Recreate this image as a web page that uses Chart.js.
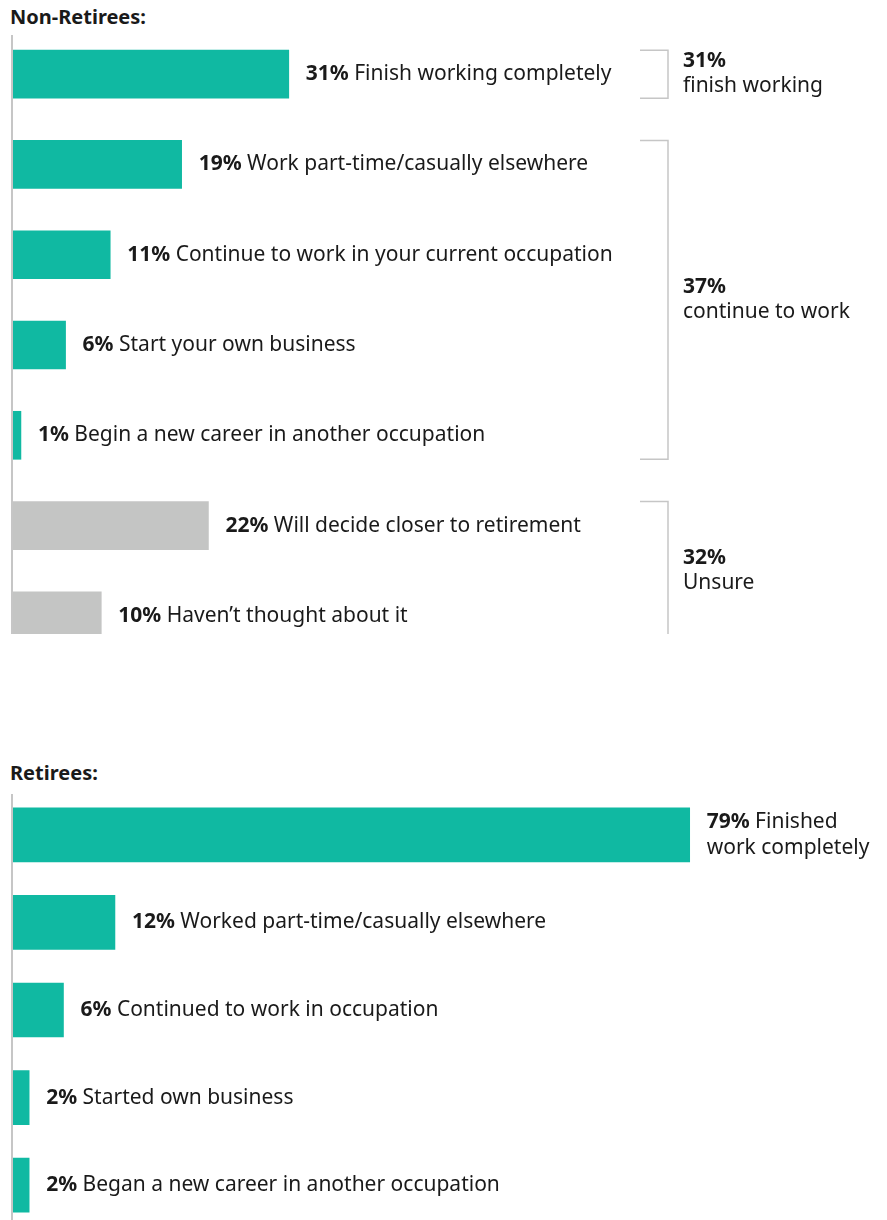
<!DOCTYPE html>
<html>
<head>
<meta charset="utf-8">
<title>Plans for work in retirement</title>
<script src="https://cdn.jsdelivr.net/npm/chart.js@4.4.1/dist/chart.umd.min.js"></script>
<style>
    body { margin: 0; width: 887px; height: 1220px; overflow: hidden; position: relative; background: #fff; }
    .title { position: absolute; left: 10px; font: bold 20px "Noto Sans"; color: #1a1a1a; line-height: 24px; }
    #clip1 { position: absolute; left: 0; top: 0; width: 887px; height: 634px; overflow: hidden; }
    #box1 { position: absolute; left: 0; top: 29px; width: 887px; height: 632px; }
    #box2 { position: absolute; left: 0; top: 791px; width: 887px; height: 438px; }
</style>
</head>
<body>
<div class="title" style="top:5px">Non-Retirees:</div>
<div id="clip1"><div id="box1"><canvas id="nonRetCanvas"></canvas></div></div>
<div class="title" style="top:761px">Retirees:</div>
<div id="box2"><canvas id="retCanvas"></canvas></div>

<script>
// Non-retirees: what they plan to do at retirement
var nonRetLabels = [
    ['Finish working completely'],
    ['Work part-time/casually elsewhere'],
    ['Continue to work in your current occupation'],
    ['Start your own business'],
    ['Begin a new career in another occupation'],
    ['Will decide closer to retirement'],
    ['Haven\u2019t thought about it']
];
var nonRetValues = [31, 19, 11, 6, 1, 22, 10];
var nonRetGroups = ['decided', 'decided', 'decided', 'decided', 'decided', 'unsure', 'unsure'];

// brackets on the right of the non-retirees chart
var bracketValues = ['31%', '37%', '32%'];
var bracketLabels = ['finish working', 'continue to work', 'Unsure'];
var bracketFirst = [0, 1, 5];
var bracketLast = [0, 4, 6];

// Retirees: what they did at retirement
var retLabels = [
    ['Finished', 'work completely'],
    ['Worked part-time/casually elsewhere'],
    ['Continued to work in occupation'],
    ['Started own business'],
    ['Began a new career in another occupation']
];
var retValues = [79, 12, 6, 2, 2];

var TEAL = '#10b9a2';
var GREY = '#c4c5c4';
var INK = '#1a1a1a';
var LINE = '#c6c6c6';
var BOLD = 'bold 21px "Noto Sans"';
var REG = '21px "Noto Sans"';

var axisLine = {
    id: 'axisLine',
    afterDatasetsDraw: function(chart, args, opts) {
        var ctx = chart.ctx;
        var a = chart.chartArea;
        ctx.save();
        ctx.strokeStyle = LINE;
        ctx.lineWidth = 2;
        ctx.beginPath();
        ctx.moveTo(a.left, a.top + opts.start);
        ctx.lineTo(a.left, a.bottom);
        ctx.stroke();
        ctx.restore();
    }
};

var barText = {
    id: 'barText',
    afterDatasetsDraw: function(chart) {
        var ctx = chart.ctx;
        var meta = chart.getDatasetMeta(0);
        var labels = chart.data.labels;
        var values = chart.data.datasets[0].data;
        ctx.save();
        ctx.textBaseline = 'middle';
        ctx.fillStyle = INK;
        meta.data.forEach(function(bar, i) {
            var lines = labels[i];
            var x = bar.x + 17;
            var y0 = bar.y - (lines.length - 1) * 13;
            for (var j = 0; j < lines.length; j++) {
                var y = y0 + j * 26;
                if (j == 0) {
                    var v = values[i] + '%';
                    ctx.font = BOLD;
                    ctx.fillText(v, x, y);
                    var w = ctx.measureText(v).width;
                    ctx.font = REG;
                    ctx.fillText(' ' + lines[j], x + w, y);
                } else {
                    ctx.font = REG;
                    ctx.fillText(lines[j], x, y);
                }
            }
        });
        ctx.restore();
    }
};

var brackets = {
    id: 'brackets',
    afterDatasetsDraw: function(chart, args, opts) {
        if (!opts.show) return;
        var ctx = chart.ctx;
        var meta = chart.getDatasetMeta(0);
        ctx.save();
        for (var i = 0; i < bracketValues.length; i++) {
            var a = meta.data[bracketFirst[i]];
            var b = meta.data[bracketLast[i]];
            var top = a.y - a.height / 2;
            var bottom = b.y + b.height / 2;
            ctx.strokeStyle = LINE;
            ctx.lineWidth = 1.5;
            ctx.beginPath();
            ctx.moveTo(opts.x0, top);
            ctx.lineTo(opts.x1, top);
            ctx.lineTo(opts.x1, bottom);
            ctx.lineTo(opts.x0, bottom);
            ctx.stroke();

            var mid = (top + bottom) / 2;
            ctx.fillStyle = INK;
            ctx.textBaseline = 'middle';
            ctx.font = BOLD;
            ctx.fillText(bracketValues[i], opts.x1 + 15, mid - 13);
            ctx.font = REG;
            ctx.fillText(bracketLabels[i], opts.x1 + 15, mid + 12);
        }
        ctx.restore();
    }
};

function makeChart(id, labels, values, colors, thickness, xMax, lineStart, showBrackets) {
    return new Chart(document.getElementById(id), {
        type: 'bar',
        data: {
            labels: labels,
            datasets: [{
                data: values,
                backgroundColor: colors,
                barThickness: thickness,
                borderWidth: 0
            }]
        },
        options: {
            indexAxis: 'y',
            responsive: true,
            maintainAspectRatio: false,
            animation: false,
            layout: { padding: { left: 12, right: 0, top: 0, bottom: 0 } },
            scales: {
                x: { display: false, min: 0, max: xMax },
                y: { display: false }
            },
            plugins: {
                legend: { display: false },
                tooltip: { enabled: false },
                axisLine: { start: lineStart },
                brackets: { show: showBrackets, x0: 640, x1: 668 }
            }
        },
        plugins: [axisLine, barText, brackets]
    });
}

var nonRetColors = nonRetGroups.map(function(g) { return g == 'unsure' ? GREY : TEAL; });
var retColors = retValues.map(function() { return TEAL; });

makeChart('nonRetCanvas', nonRetLabels, nonRetValues, nonRetColors, 48, 98, 6, true);
makeChart('retCanvas', retLabels, retValues, retColors, 54, 102, 3, false);
</script>
</body>
</html>
